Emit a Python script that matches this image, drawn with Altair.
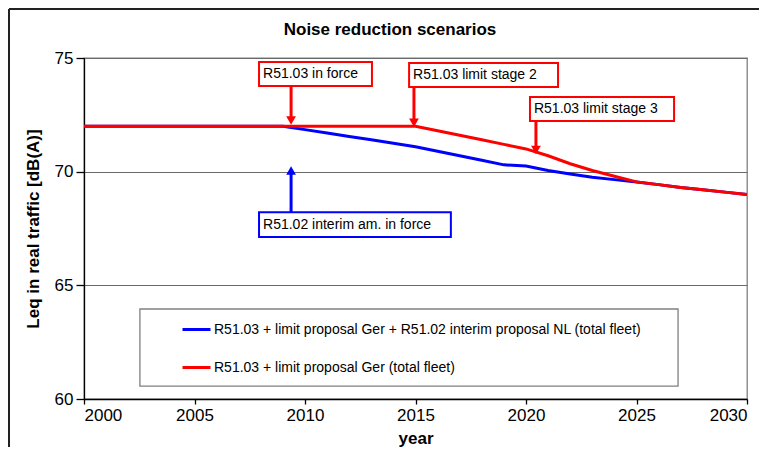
import altair as alt
import pandas as pd

# ---- data ----
years = list(range(2000, 2031))
blue_vals = [72.0]*10 + [71.85, 71.7, 71.55, 71.4, 71.25, 71.1, 70.9, 70.7, 70.5, 70.3,
                         70.25, 70.05, 69.9, 69.75, 69.65, 69.55, 69.43, 69.3, 69.2, 69.1, 69.0]
red_vals = [72.0]*16 + [71.8, 71.6, 71.4, 71.2, 71.0, 70.7, 70.35, 70.05, 69.8,
                        69.55, 69.43, 69.3, 69.2, 69.1, 69.0]
series_blue = "R51.03 + limit proposal Ger + R51.02 interim proposal NL (total fleet)"
series_red = "R51.03 + limit proposal Ger (total fleet)"
title_text = ["Noise reduction scenarios"]

# annotation boxes (data coordinates)
ann_text = ["R51.03 in force", "R51.03 limit stage 2", "R51.03 limit stage 3", "R51.02 interim am. in force"]
ann_color = ["#ff0000", "#ff0000", "#ff0000", "#0000ff"]
ann_x1 = [2007.92, 2014.71, 2020.18, 2007.92]
ann_x2 = [2013.03, 2021.45, 2026.70, 2016.60]
ann_y1 = [74.82, 74.78, 73.28, 68.22]
ann_y2 = [73.77, 73.72, 72.23, 67.13]
# arrows: x, start y, tip y
arr_x = [2009.37, 2014.93, 2020.45, 2009.37]
arr_y0 = [73.77, 73.72, 72.23, 67.13]
arr_y1 = [72.25, 72.15, 70.95, 70.05]
arr_shape = ["triangle-down", "triangle-down", "triangle-down", "triangle-up"]

# legend frame (data coordinates)
leg_x1, leg_x2, leg_y1, leg_y2 = 2002.53, 2026.88, 63.96, 60.57

df = pd.DataFrame({
    "year": years * 2,
    "value": blue_vals + red_vals,
    "series": [series_blue] * len(years) + [series_red] * len(years),
    "ord": [0] * len(years) + [1] * len(years),
})
ann = pd.DataFrame({"text": ann_text, "color": ann_color, "x1": ann_x1, "x2": ann_x2,
                    "y1": ann_y1, "y2": ann_y2, "ax": arr_x, "ay0": arr_y0, "ay1": arr_y1,
                    "shape": arr_shape})
leg = pd.DataFrame({"x1": [leg_x1], "x2": [leg_x2], "y1": [leg_y1], "y2": [leg_y2]})
ttl = pd.DataFrame({"t": title_text})

FONT = "Liberation Sans"
xs = alt.Scale(domain=[2000, 2030], nice=False, zero=False)
ys = alt.Scale(domain=[60, 75], nice=False, zero=False)

legend_frame = alt.Chart(leg).mark_rect(fill="white", stroke="#808080", strokeWidth=1.3).encode(
    x=alt.X("x1:Q", scale=xs), x2="x2:Q", y=alt.Y("y1:Q", scale=ys), y2="y2:Q")

lines = alt.Chart(df).mark_line(strokeWidth=3, clip=True).encode(
    x=alt.X("year:Q", scale=xs,
            axis=alt.Axis(title="year", values=[2000, 2005, 2010, 2015, 2020, 2025, 2030],
                          format="d", grid=False, tickSize=5, labelPadding=3,
                          titlePadding=7)),
    y=alt.Y("value:Q", scale=ys,
            axis=alt.Axis(title="Leq in real traffic [dB(A)]", values=[60, 65, 70, 75],
                          grid=True, tickSize=8, labelPadding=3, titlePadding=12)),
    color=alt.Color("series:N",
                    scale=alt.Scale(domain=[series_blue, series_red], range=["#0000ff", "#ff0000"]),
                    legend=alt.Legend(title=None, orient="none", legendX=97, legendY=256,
                                      symbolType="stroke", symbolSize=784, symbolStrokeWidth=3,
                                      labelFontSize=14, labelFont=FONT, rowPadding=15,
                                      labelOffset=2, padding=0, labelLimit=1000,
                                      labelColor="black")),
    order="ord:O",
)

boxes = alt.Chart(ann).mark_rect(fill="white", strokeWidth=2).encode(
    x=alt.X("x1:Q", scale=xs), x2="x2:Q", y=alt.Y("y1:Q", scale=ys), y2="y2:Q",
    stroke=alt.Color("color:N", scale=None))
texts = alt.Chart(ann).mark_text(align="left", baseline="middle", fontSize=14, font=FONT,
                                 dx=4, color="black").encode(
    x=alt.X("x1:Q", scale=xs), y=alt.Y("yc:Q", scale=ys), text="text:N"
).transform_calculate(yc="(datum.y1 + datum.y2) / 2")
shafts = alt.Chart(ann).mark_rule(strokeWidth=3).encode(
    x=alt.X("ax:Q", scale=xs), y=alt.Y("ay0:Q", scale=ys), y2="ay1:Q",
    color=alt.Color("color:N", scale=None))
heads = alt.Chart(ann).mark_point(filled=True, size=95, opacity=1).encode(
    x=alt.X("ax:Q", scale=xs), y=alt.Y("ay1:Q", scale=ys),
    color=alt.Color("color:N", scale=None), shape=alt.Shape("shape:N", scale=None))

frame_top = alt.Chart(leg).mark_rule(color="#222222", strokeWidth=2, clip=False).encode(
    x=alt.value(-75), x2=alt.value(700), y=alt.value(-49))
frame_left = alt.Chart(leg).mark_rule(color="#222222", strokeWidth=2, clip=False).encode(
    x=alt.value(-75), y=alt.value(-49), y2=alt.value(420))
title = alt.Chart(ttl).mark_text(font=FONT, fontSize=17, fontWeight="bold", color="black",
                                 align="center", baseline="middle").encode(
    x=alt.value(306), y=alt.value(-28), text="t:N")

chart = alt.layer(frame_top, frame_left, title, legend_frame, lines, shafts, heads, boxes, texts).properties(
    width=663, height=341,
    padding={"left": 76, "top": 50, "right": 12, "bottom": 48},
    autosize=alt.AutoSizeParams(type="none"),
).configure_view(stroke="#808080", strokeWidth=1.3).configure_axis(
    labelFont=FONT, titleFont=FONT, labelFontSize=17, titleFontSize=17, titleFontWeight="bold",
    labelColor="black", titleColor="black", domainColor="black", tickColor="black",
    gridColor="#6a6a6a", gridWidth=1.2, domainWidth=1.3, tickWidth=1.3,
)

chart.save("out.html", embed_options={"renderer": "svg", "actions": False})
